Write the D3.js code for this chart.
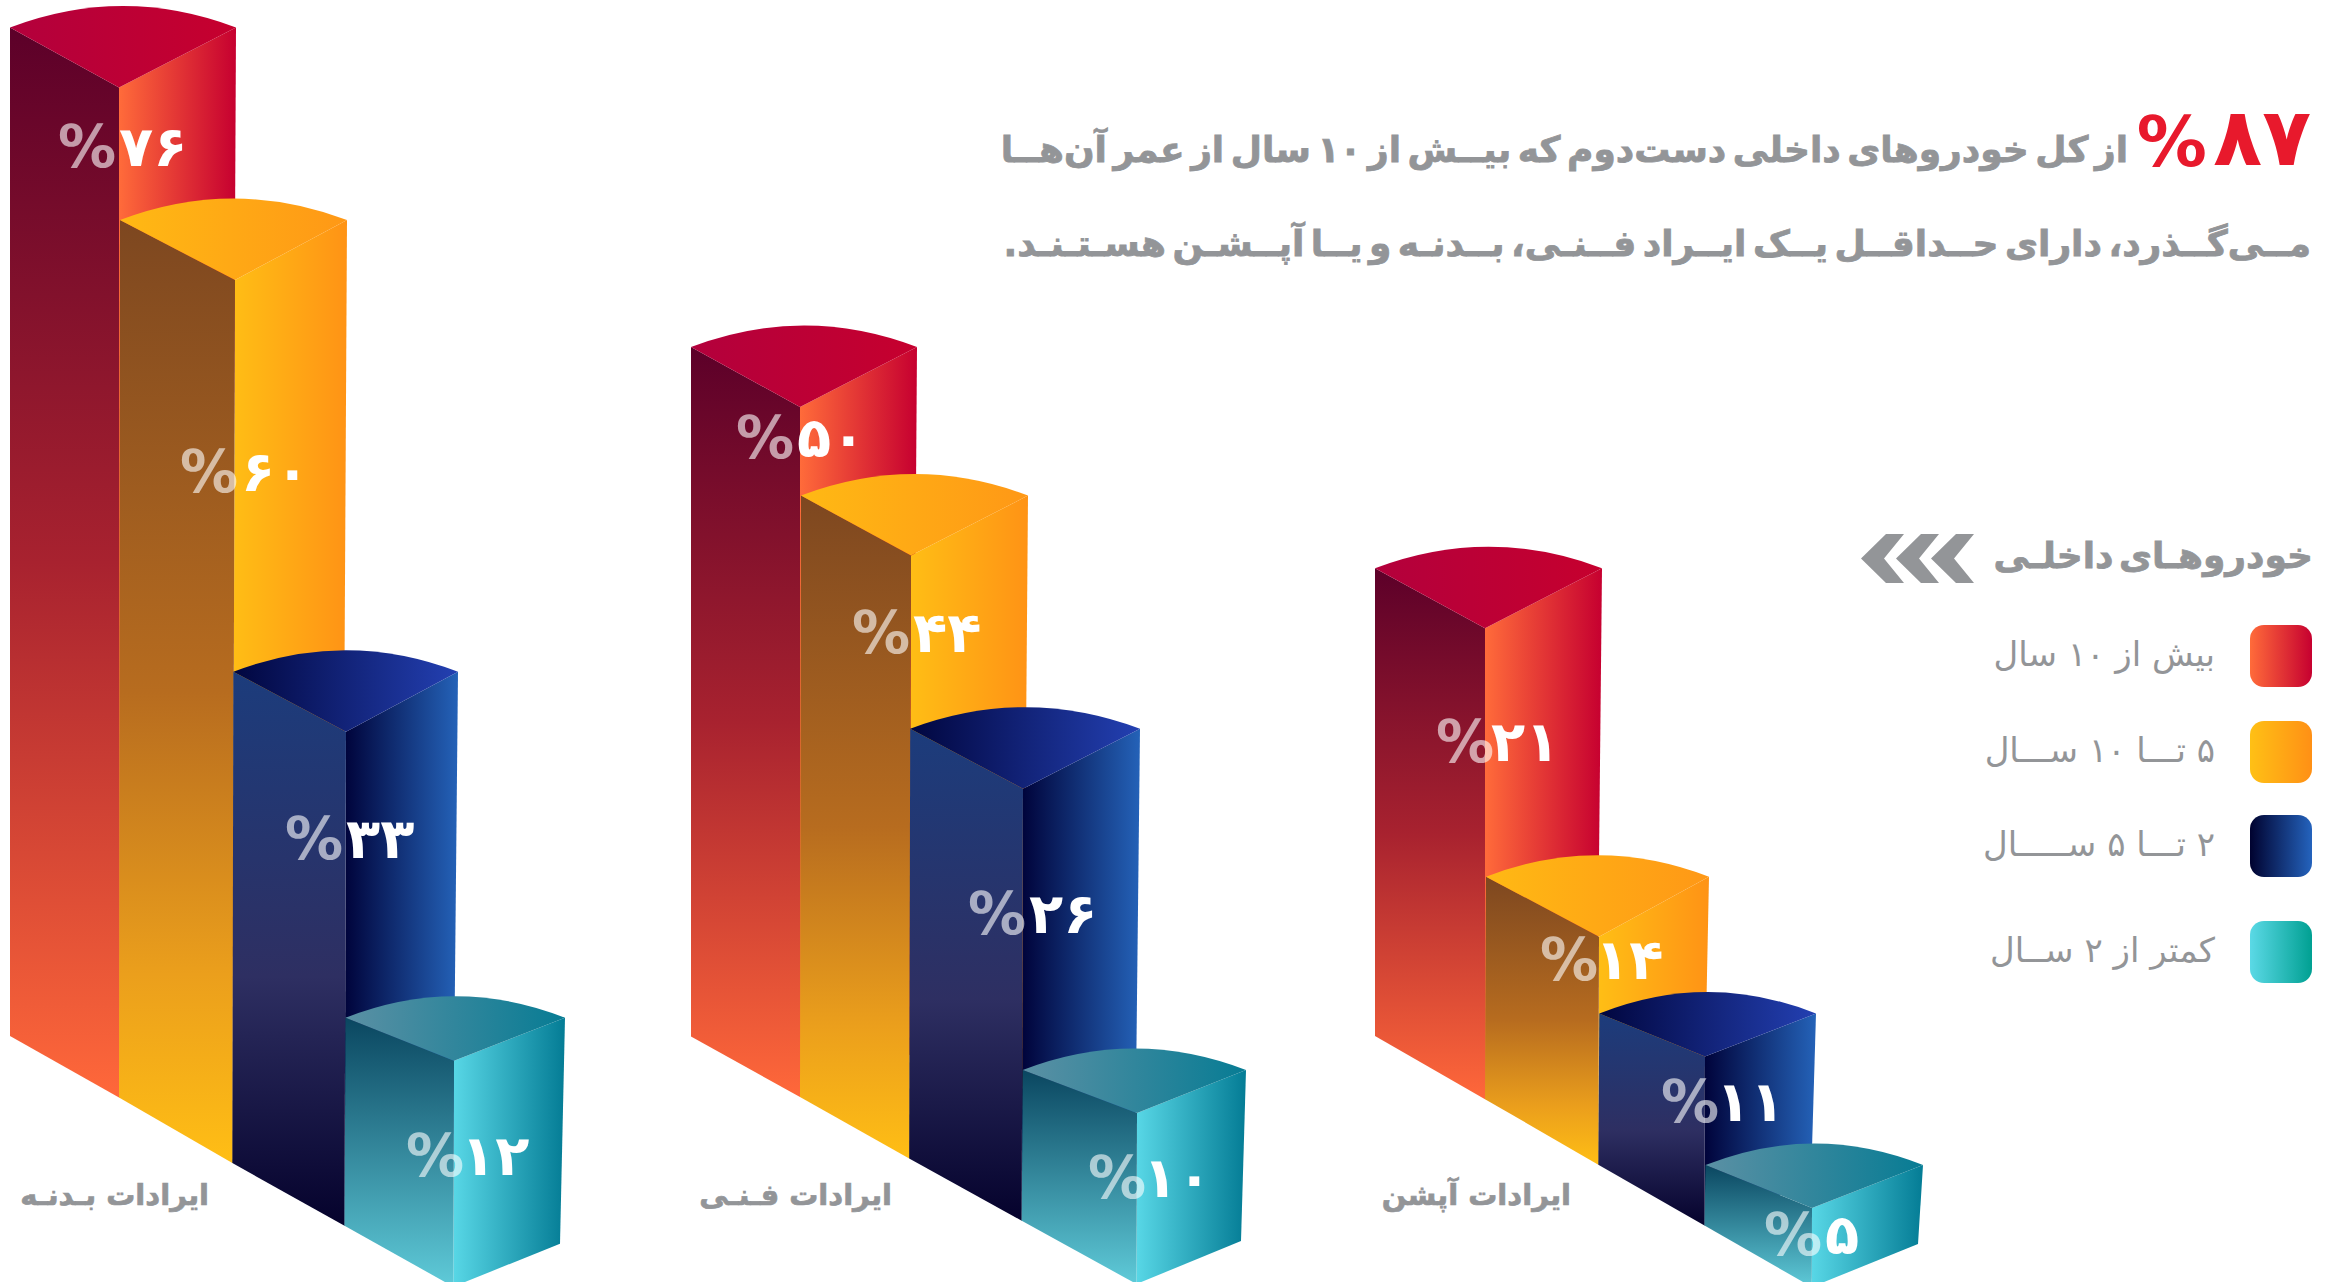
<!DOCTYPE html>
<html lang="fa">
<head>
<meta charset="utf-8">
<script src="https://cdn.jsdelivr.net/npm/d3@7"></script>
<style>
html,body{margin:0;padding:0;background:#fff;overflow:hidden}
svg{display:block}
text{font-family:"DejaVu Sans",sans-serif}
</style>
</head>
<body>
<script>
// ---- data ----
const categories = ["ایرادات بـدنـه", "ایرادات فـنـی", "ایرادات آپشن"];
const seriesNames = ["بیش از ۱۰ سال", "۵ تـــا ۱۰ ســـال", "۲ تـــا ۵ ســـــال", "کمتر از ۲ ســال"];
const over10 = [76, 50, 21];
const from5to10 = [60, 44, 14];
const from2to5 = [33, 26, 11];
const under2 = [12, 10, 5];
const seriesValues = [over10, from5to10, from2to5, under2];
const headlineValue = 87;
const headlineLines = [
  "از کل خودروهای داخلی دست‌دوم که بیــش از ۱۰ سال از عمر آن‌هــا",
  "مــی‌گــذرد، دارای حــداقــل یــک ایــراد فــنـی، بــدنـه و یــا آپــشـن هسـتـنـد."
];
const legendTitle = "خودروهـای داخلـی";

// ---- palette ----
const palette = [
  {left:[["0","#5c0029"],["0.5","#a8222f"],["1","#ff683a"]], right:["#ff6b3a","#c60030"], top:["#b3003c","#c6002e"]},
  {left:[["0","#7d4720"],["0.5","#b76c1f"],["0.8","#eb9f1c"],["1","#ffbe15"]], right:["#ffbe15","#ff9315"], top:["#ffb914","#ff9816"]},
  {left:[["0","#1c3c7c"],["0.55","#2e2f62"],["1","#05022c"]], right:["#00033a","#2462b8"], top:["#01063f","#2340b2"]},
  {left:[["0","#0a4660"],["1","#5fcbd9"]], right:["#58d7e6","#047c95"], top:["#5b90a4","#077c94"]}
];
const swatch = [["#ff6b3a","#c60030"],["#ffc015","#ff9015"],["#00022f","#2463bd"],["#5bd9e6","#00a092"]];
const grey = "#939598";

const W = 2339, H = 1282;
const svg = d3.select("body").append("svg").attr("width", W).attr("height", H).attr("viewBox", `0 0 ${W} ${H}`);
const defs = svg.append("defs");

function grad(id, stops, vertical) {
  const g = defs.append("linearGradient").attr("id", id)
    .attr("x1", 0).attr("y1", 0).attr("x2", vertical ? 0 : 1).attr("y2", vertical ? 1 : 0);
  stops.forEach(s => g.append("stop").attr("offset", s[0]).attr("stop-color", s[1]));
}
palette.forEach((p, i) => {
  grad(`left${i}`, p.left, true);
  grad(`right${i}`, [["0", p.right[0]], ["1", p.right[1]]]);
  grad(`top${i}`, [["0", p.top[0]], ["1", p.top[1]]]);
});
swatch.forEach((s, i) => grad(`sw${i}`, [["0", s[0]], ["1", s[1]]]));

// ---- scales (the artwork is not linear: each series has its own calibrated height scale) ----
const heightScales = [
  d3.scaleLinear().domain([0, 21, 50, 76]).range([0, 471, 690, 1010]),
  d3.scaleLinear().domain([0, 14, 44, 60]).range([0, 228, 603, 883]),
  d3.scaleLinear().domain([0, 11, 26, 33]).range([0, 169, 432, 494]),
  d3.scaleLinear().domain([0, 5, 10, 12]).range([0, 79, 171, 226])
];
const groupOrigin = d3.scaleOrdinal().domain([0, 1, 2]).range([10, 691, 1375]);
const frontOffset = [
  d3.scaleLinear().domain([0, 1, 2, 3]).range([109, 225, 336, 444]),
  d3.scaleLinear().domain([0, 1, 2, 3]).range([109, 220, 332, 446]),
  d3.scaleLinear().domain([0, 1, 2, 3]).range([110, 224, 330, 437])
];
const baseLine = [
  d3.scaleLinear().domain([0, 444]).range([1036, 1286.7]),
  d3.scaleLinear().domain([0, 446]).range([1036.5, 1284]),
  d3.scaleLinear().domain([0, 437]).range([1036, 1287])
];
const rightWidth = [
  d3.scaleOrdinal().domain([0, 1, 2, 3]).range([117, 112, 112, 111]),
  d3.scaleOrdinal().domain([0, 1, 2, 3]).range([117, 117, 117, 109]),
  d3.scaleOrdinal().domain([0, 1, 2, 3]).range([117, 110, 111, 111])
];
const topRise = d3.scaleThreshold().domain([227]).range([43, 60]);
const labelDrop = [
  d3.scaleOrdinal().domain([0, 1, 2, 3]).range([58, 191, 106, 94]),
  d3.scaleOrdinal().domain([0, 1, 2, 3]).range([30, 76, 124, 64]),
  d3.scaleOrdinal().domain([0, 1, 2, 3]).range([113, 22, 44, 26])
];
const labelShift = [
  d3.scaleOrdinal().domain([0, 1, 2, 3]).range([0, 6, 0, 13]),
  d3.scaleOrdinal().domain([0, 1, 2, 3]).range([-3, 2, 6, 12]),
  d3.scaleOrdinal().domain([0, 1, 2, 3]).range([12, 2, 17, 13])
];
const faDigits = v => String(v).replace(/\d/g, d => "۰۱۲۳۴۵۶۷۸۹"[d]);
const line = d3.line().curve(d3.curveLinearClosed);

// ---- bars ----
const bars = [];
categories.forEach((c, g) => {
  let prevX = groupOrigin(g), prevBottomY = baseLine[g](0);
  seriesNames.forEach((s, i) => {
    const dx = frontOffset[g](i);
    const x = groupOrigin(g) + dx, v = seriesValues[i][g], h = heightScales[i](v);
    const bottom = baseLine[g](dx), top = bottom - h;
    const lean = i ? 0.003 * h : 0;
    bars.push({g, i, v, x, top, bottom, rise: topRise(h), wr: rightWidth[g](i),
      bx: x - lean, leftTopX: prevX + (i ? 1 : 0), leftBotX: prevX, leftBotY: prevBottomY});
    prevX = x - lean; prevBottomY = bottom;
  });
});

const bar = svg.append("g").selectAll("g").data(bars).join("g");
bar.append("path").attr("fill", d => `url(#right${d.i})`)
  .attr("d", d => line([[d.x, d.top], [d.x + d.wr, d.top - d.rise], [d.x + d.wr - 5, d.bottom - 43], [d.bx, d.bottom]]));
bar.append("path").attr("fill", d => `url(#left${d.i})`)
  .attr("d", d => line([[d.leftTopX, d.top - d.rise], [d.x, d.top], [d.bx, d.bottom], [d.leftBotX, d.leftBotY]]));
bar.append("path").attr("fill", d => `url(#top${d.i})`)
  .attr("d", d => {
    const lx = d.leftTopX, rx = d.x + d.wr, y = d.top - d.rise;
    return `M${lx},${y}Q${(lx + rx) / 2},${y - 43} ${rx},${y}L${d.x},${d.top}Z`;
  });

// ---- value labels ----
const hasOne = v => String(v).includes("1");
const labels = svg.append("g").selectAll("g").data(bars).join("g")
  .attr("transform", d => `translate(${d.x + labelShift[d.g](d.i)},${d.top + labelDrop[d.g](d.i)})`);
labels.append("text").text("%").attr("text-anchor", "end").attr("x", -3).attr("y", 21)
  .attr("font-size", 58).attr("font-weight", 700).attr("fill", "#fff").attr("fill-opacity", .6);
labels.append("text").text(d => faDigits(d.v)).attr("text-anchor", "start")
  .attr("x", d => hasOne(d.v) ? -6 : 0).attr("y", 20)
  .style("direction", "ltr").style("letter-spacing", d => hasOne(d.v) ? "-12px" : "-2px")
  .attr("font-size", 56).attr("font-weight", 700).attr("fill", "#fff");

// ---- category labels ----
const catRight = d3.scaleOrdinal().domain([0, 1, 2]).range([209, 892, 1571]);
svg.append("g").selectAll("text").data(categories).join("text")
  .text(d => d).attr("x", (d, i) => catRight(i)).attr("y", 1205)
  .style("direction", "rtl").attr("text-anchor", "start")
  .attr("font-size", 29).attr("font-weight", 700).attr("fill", grey)
  .attr("stroke", grey).attr("stroke-width", .7);

// ---- headline ----
svg.append("text").text(faDigits(headlineValue)).attr("x", 2311).attr("y", 165)
  .style("direction", "ltr").attr("text-anchor", "end")
  .attr("font-size", 80).attr("font-weight", 700).attr("fill", "#e8192c");
svg.append("text").text("%").attr("x", 2207).attr("y", 166)
  .attr("text-anchor", "end").attr("font-size", 70).attr("font-weight", 700).attr("fill", "#e8192c");
const lineY = d3.scaleOrdinal().domain([0, 1]).range([162, 256]);
const lineRight = d3.scaleOrdinal().domain([0, 1]).range([2128, 2311]);
svg.append("g").selectAll("text").data(headlineLines).join("text")
  .text(d => d).attr("x", (d, i) => lineRight(i)).attr("y", (d, i) => lineY(i))
  .style("direction", "rtl").style("word-spacing", "-6px").attr("text-anchor", "start")
  .attr("font-size", 36).attr("font-weight", 700).attr("fill", grey)
  .attr("stroke", grey).attr("stroke-width", .8);

// ---- legend ----
svg.append("text").text(legendTitle).attr("x", 2313).attr("y", 568)
  .style("direction", "rtl").style("word-spacing", "-7px").attr("text-anchor", "start")
  .attr("font-size", 36).attr("font-weight", 700).attr("fill", grey)
  .attr("stroke", grey).attr("stroke-width", .8);
const chevronX = d3.scalePoint().domain([0, 1, 2]).range([1861, 1931]);
svg.append("g").selectAll("path").data(chevronX.domain()).join("path")
  .attr("transform", d => `translate(${chevronX(d)},558.5)`)
  .attr("d", "M0,0L25,-24.5H43L23,0L43,24.5H25Z").attr("fill", grey);

const legendY = d3.scaleLinear().domain([0, 1, 2, 3]).range([625, 721, 815, 921]);
const legend = svg.append("g").selectAll("g").data(seriesNames).join("g")
  .attr("transform", (d, i) => `translate(0,${legendY(i)})`);
legend.append("rect").attr("x", 2250).attr("width", 62).attr("height", 62).attr("rx", 14)
  .attr("fill", (d, i) => `url(#sw${i})`);
legend.append("text").text(d => d).attr("x", 2215).attr("y", 41)
  .style("direction", "rtl").attr("text-anchor", "start")
  .attr("font-size", 34).attr("fill", grey);
</script>
</body>
</html>
